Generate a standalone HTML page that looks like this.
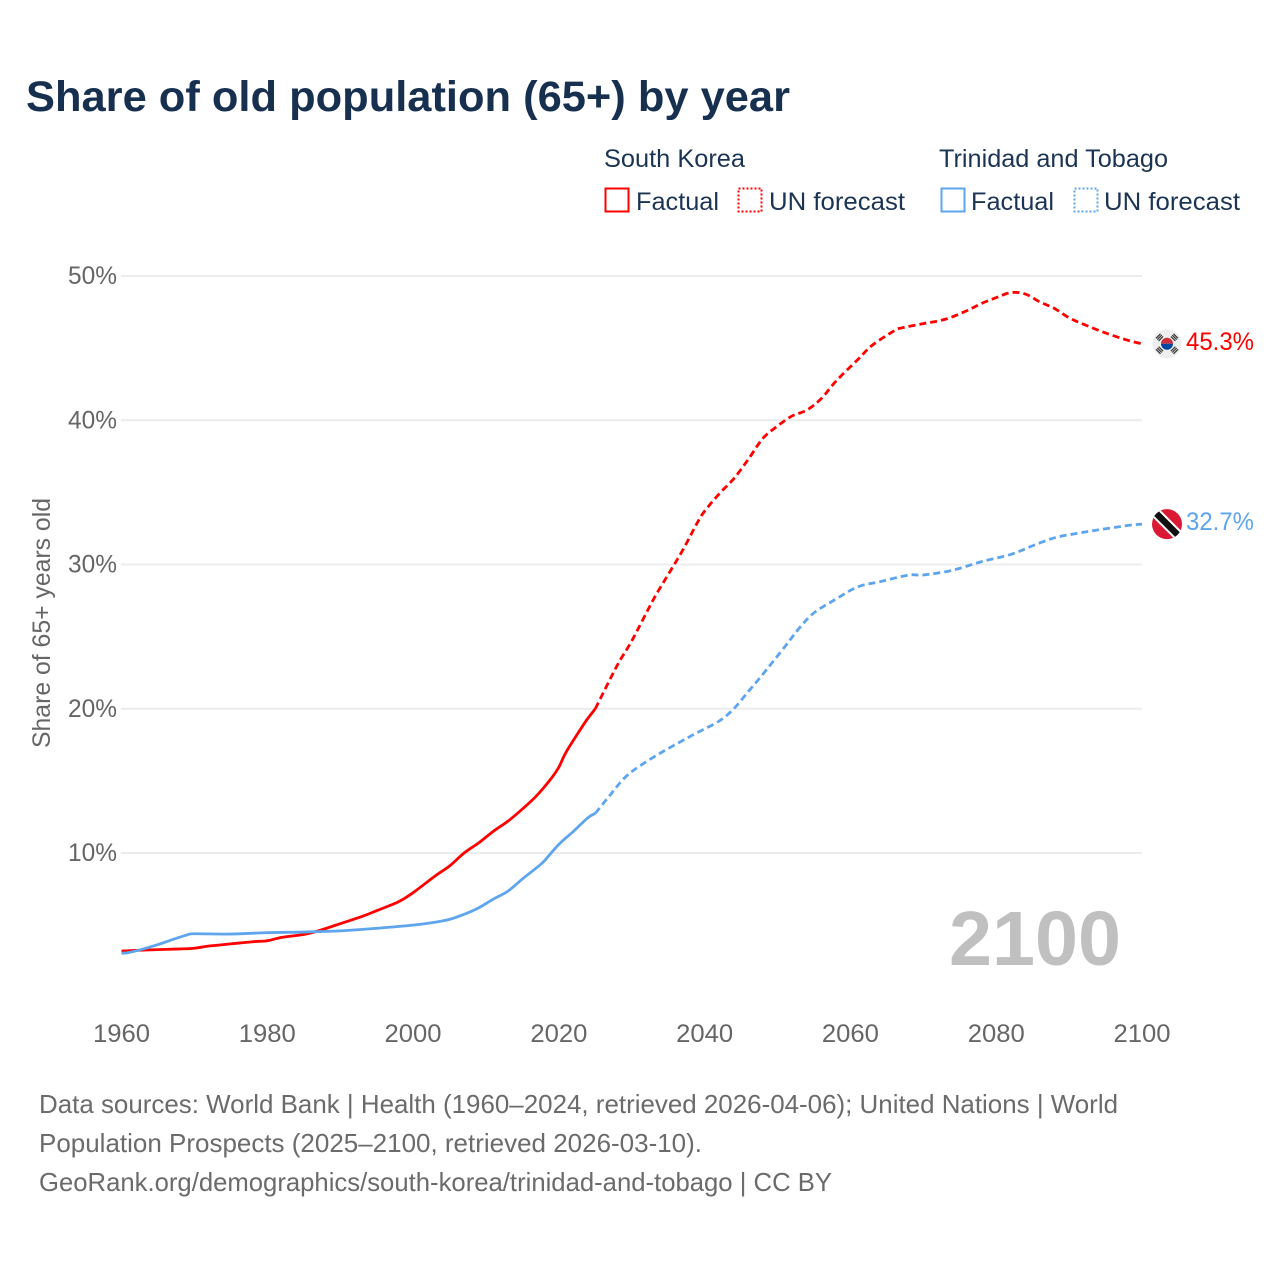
<!DOCTYPE html>
<html lang="en">
<head>
<meta charset="utf-8">
<title>Share of old population (65+) by year</title>
<style>
html,body{margin:0;padding:0;background:#fff;width:1280px;height:1280px;overflow:hidden}
svg{display:block}
text{font-family:"Liberation Sans",sans-serif}
</style>
</head>
<body>
<svg id="chart" xmlns="http://www.w3.org/2000/svg" width="1280" height="1280" viewBox="0 0 1280 1280">
  <rect width="1280" height="1280" fill="#fff"/>
  <text x="26" y="111" font-size="43" font-weight="700" fill="#17304f" textLength="764" lengthAdjust="spacingAndGlyphs">Share of old population (65+) by year</text>

  <g font-size="25" fill="#1c3454">
    <text x="604" y="167" textLength="141" lengthAdjust="spacingAndGlyphs">South Korea</text>
    <text x="939" y="167" textLength="229" lengthAdjust="spacingAndGlyphs">Trinidad and Tobago</text>
    <rect x="605.5" y="188.5" width="23" height="23" fill="none" stroke="#ff0000" stroke-width="2"/>
    <text x="636" y="210" textLength="83" lengthAdjust="spacingAndGlyphs">Factual</text>
    <rect x="738.5" y="188.5" width="23" height="23" fill="none" stroke="#ff0000" stroke-width="2" stroke-dasharray="2 2"/>
    <text x="769" y="210" textLength="136" lengthAdjust="spacingAndGlyphs">UN forecast</text>
    <rect x="941.5" y="188.5" width="23" height="23" fill="none" stroke="#5ea5ee" stroke-width="2"/>
    <text x="971" y="210" textLength="83" lengthAdjust="spacingAndGlyphs">Factual</text>
    <rect x="1074.5" y="188.5" width="23" height="23" fill="none" stroke="#5ea5ee" stroke-width="2" stroke-dasharray="2 2"/>
    <text x="1104" y="210" textLength="136" lengthAdjust="spacingAndGlyphs">UN forecast</text>
  </g>

  <g id="grid"></g>
  <g id="yticks"></g>
  <g id="xticks"></g>
  <text transform="translate(50,748) rotate(-90)" font-size="25" fill="#666666" textLength="250" lengthAdjust="spacingAndGlyphs">Share of 65+ years old</text>

  <text x="949" y="965" font-size="77" font-weight="700" fill="#c0c0c0" textLength="172" lengthAdjust="spacingAndGlyphs">2100</text>

  <g id="series"></g>

  <g id="flagKorea">
    <circle r="14.5" fill="#eeeeee"/>
    <path d="M-6 0A6 6 0 0 1 6 0Z" fill="#cd2e3a"/>
    <path d="M-6 0A6 6 0 0 0 6 0Z" fill="#0047a0"/>
    <g stroke="#333" stroke-width="1.2">
      <path d="M-11-5.5l4.5-4.5M-9.7-4.2l4.5-4.5M-8.4-2.9l4.5-4.5"/>
      <path d="M11-5.5l-4.5-4.5M9.7-4.2l-4.5-4.5M8.4-2.9l-4.5-4.5"/>
      <path d="M-11 5.5l4.5 4.5M-9.7 4.2l4.5 4.5M-8.4 2.9l4.5 4.5"/>
      <path d="M11 5.5l-4.5 4.5M9.7 4.2l-4.5 4.5M8.4 2.9l-4.5 4.5"/>
    </g>
  </g>
  <g id="flagTT">
    <clipPath id="ttClip"><circle r="15"/></clipPath>
    <circle r="15" fill="#da1a35"/>
    <g clip-path="url(#ttClip)">
      <path d="M-14-14L14 14" stroke="#fff" stroke-width="10.5"/>
      <path d="M-14-14L14 14" stroke="#111" stroke-width="6.5"/>
    </g>
  </g>
  <text id="labelKorea" x="1186" font-size="25" fill="#ff0000" textLength="68" lengthAdjust="spacingAndGlyphs"></text>
  <text id="labelTT" x="1186" font-size="25" fill="#5ea5ee" textLength="68" lengthAdjust="spacingAndGlyphs"></text>

  <g font-size="26" fill="#6b6b6b">
    <text x="39" y="1113" textLength="1079" lengthAdjust="spacingAndGlyphs">Data sources: World Bank | Health (1960–2024, retrieved 2026-04-06); United Nations | World</text>
    <text x="39" y="1152" textLength="663" lengthAdjust="spacingAndGlyphs">Population Prospects (2025–2100, retrieved 2026-03-10).</text>
    <text x="39" y="1191" textLength="793" lengthAdjust="spacingAndGlyphs">GeoRank.org/demographics/south-korea/trinidad-and-tobago | CC BY</text>
  </g>
</svg>
<script>
const yTicks = [10, 20, 30, 40, 50];
const xTicks = [1960, 1980, 2000, 2020, 2040, 2060, 2080, 2100];
const koreaLabel = "45.3%";
const trinidadLabel = "32.7%";

const koreaYears = [1960,1962,1965,1968,1970,1972,1975,1978,1980,1982,1985,1987,1990,1993,1995,1998,2000,2003,2005,2007,2009,2011,2013,2015,2017,2019,2020,2021,2023,2024,2025,2028,2030,2033,2035,2037,2039,2040,2042,2044,2046,2048,2050,2052,2054,2056,2058,2061,2063,2066,2067,2070,2073,2076,2078,2080,2082,2084,2086,2088,2090,2092,2095,2098,2100];
const koreaValues = [3.2,3.25,3.3,3.35,3.4,3.55,3.7,3.85,3.92,4.15,4.35,4.6,5.1,5.6,6.0,6.62,7.25,8.4,9.1,10.0,10.7,11.5,12.2,13.05,14.0,15.2,15.95,17.0,18.6,19.35,20.0,23.0,24.7,27.6,29.3,31.0,32.9,33.7,34.9,35.95,37.3,38.75,39.6,40.3,40.7,41.5,42.7,44.2,45.2,46.2,46.4,46.7,47.0,47.6,48.1,48.5,48.85,48.75,48.2,47.75,47.1,46.65,46.05,45.55,45.3];

const trinidadYears = [1960,1961,1963,1965,1967,1969,1970,1975,1980,1985,1990,1995,2000,2003,2005,2007,2009,2011,2013,2015,2017,2018,2020,2022,2024,2025,2027,2029,2031,2034,2037,2039,2042,2044,2046,2048,2051,2053,2055,2058,2061,2064,2068,2070,2074,2078,2082,2085,2088,2091,2094,2098,2100];
const trinidadValues = [3.05,3.1,3.35,3.65,4.0,4.32,4.4,4.38,4.48,4.52,4.6,4.78,5.0,5.2,5.4,5.75,6.2,6.8,7.35,8.2,9.0,9.45,10.6,11.5,12.45,12.75,14.0,15.2,16.0,16.95,17.8,18.35,19.15,20.0,21.2,22.4,24.3,25.6,26.65,27.6,28.45,28.8,29.27,29.27,29.6,30.2,30.7,31.3,31.85,32.15,32.4,32.7,32.8];

const forecastStart = 2025;
const NS = "http://www.w3.org/2000/svg";
function xScale(year){ return 121.5 + (year - 1960) * (1142 - 121.5) / 140; }
function yScale(value){ return 853 + (10 - value) * (853 - 276) / 40; }
function make(tag, attrs, parent){
  const el = document.createElementNS(NS, tag);
  for (const k in attrs) el.setAttribute(k, attrs[k]);
  parent.appendChild(el);
  return el;
}
const gridG = document.getElementById('grid');
const yG = document.getElementById('yticks');
const xG = document.getElementById('xticks');
const seriesG = document.getElementById('series');

yTicks.forEach(function(t){
  const line = make('line', {x1:121, x2:1142, y1:yScale(t), y2:yScale(t), stroke:'#ececec', 'stroke-width':2}, gridG);
  
  
  const label = make('text', {x:117, y:yScale(t)+8, 'text-anchor':'end', 'font-size':25, fill:'#666666', textLength:49, lengthAdjust:'spacingAndGlyphs'}, yG);
  
  
  label.textContent = t + '%';
});
xTicks.forEach(function(t){
  const label = make('text', {x:xScale(t), y:1042, 'text-anchor':'middle', 'font-size':25, fill:'#666666', textLength:57, lengthAdjust:'spacingAndGlyphs'}, xG);
  
  
  label.textContent = t;
});
// Smooth path (Catmull-Rom to Bezier) through the data points that pass the test
function pathFor(years, values, test){
  const pts = [];
  years.forEach(function(y, i){
    if (test(y)) pts.push([xScale(y), yScale(values[i])]);
  });
  let d = 'M' + pts[0][0].toFixed(2) + ' ' + pts[0][1].toFixed(2);
  for (let i = 0; i < pts.length - 1; i++){
    const p0 = pts[Math.max(i - 1, 0)], p1 = pts[i], p2 = pts[i + 1], p3 = pts[Math.min(i + 2, pts.length - 1)];
    const c1x = p1[0] + (p2[0] - p0[0]) / 6, c1y = p1[1] + (p2[1] - p0[1]) / 6;
    const c2x = p2[0] - (p3[0] - p1[0]) / 6, c2y = p2[1] - (p3[1] - p1[1]) / 6;
    d += 'C' + c1x.toFixed(2) + ' ' + c1y.toFixed(2) + ' ' + c2x.toFixed(2) + ' ' + c2y.toFixed(2) + ' ' + p2[0].toFixed(2) + ' ' + p2[1].toFixed(2);
  }
  return d;
}
function drawSeries(name, years, values, color){
  const solid = make('path', {d:pathFor(years, values, function(y){return y <= forecastStart;}), fill:'none', stroke:color, 'stroke-width':2.8, 'stroke-linejoin':'round'}, seriesG);
  
  
  const dashed = make('path', {d:pathFor(years, values, function(y){return y >= forecastStart;}), fill:'none', stroke:color, 'stroke-width':2.8, 'stroke-dasharray':'7 4', 'stroke-linejoin':'round'}, seriesG);
  
  
}
drawSeries('south-korea', koreaYears, koreaValues, '#ff0000');
drawSeries('trinidad', trinidadYears, trinidadValues, '#5ea5ee');

const kLast = koreaValues[koreaValues.length - 1];
const tLast = trinidadValues[trinidadValues.length - 1];
document.getElementById('flagKorea').setAttribute('transform', 'translate(1167,' + yScale(kLast).toFixed(1) + ')');
document.getElementById('flagTT').setAttribute('transform', 'translate(1167,' + yScale(tLast).toFixed(1) + ')');
const lk = document.getElementById('labelKorea');
lk.setAttribute('y', (yScale(kLast) + 6).toFixed(1));
lk.textContent = koreaLabel;
const lt = document.getElementById('labelTT');
lt.setAttribute('y', (yScale(tLast) + 6).toFixed(1));
lt.textContent = trinidadLabel;
</script>
</body>
</html>
